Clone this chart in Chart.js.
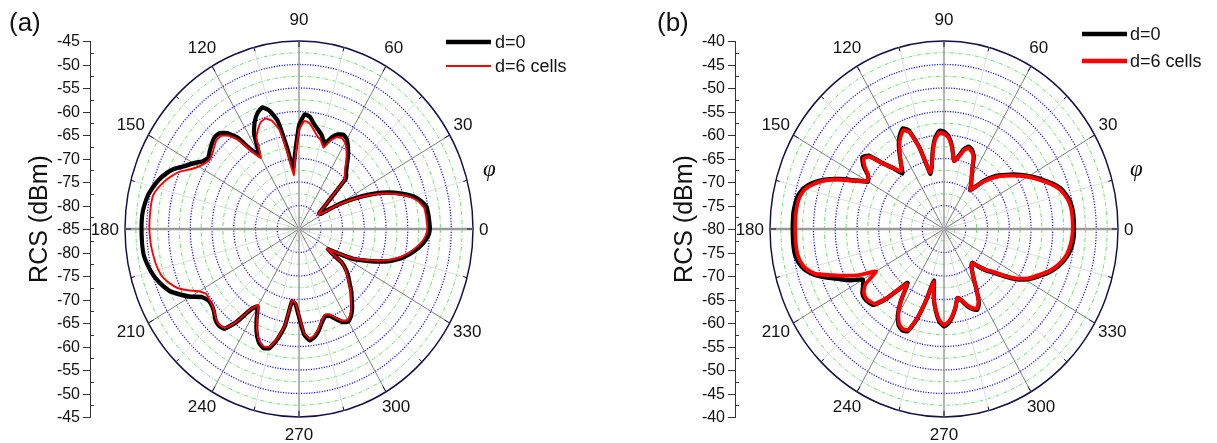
<!DOCTYPE html>
<html><head><meta charset="utf-8">
<script src="https://cdn.jsdelivr.net/npm/chart.js@4/dist/chart.umd.min.js"></script>
<style>
html,body{margin:0;padding:0;background:#fff;}
#wrap{position:relative;width:1217px;height:443px;overflow:hidden;}
canvas{position:absolute;top:0;}
</style></head><body>
<div id="wrap">
<canvas id="ca" width="608" height="443" style="left:0px"></canvas>
<canvas id="cb" width="609" height="443" style="left:608px"></canvas>
</div>
<script>
// ---- data ----
const phiDeg = [0,3,6,9,12,15,18,21,24,27,30,33,36,39,42,45,48,51,54,57,60,63,66,69,72,75,78,81,84,87,
90,93,96,99,102,105,108,111,114,117,120,123,126,129,132,135,138,141,144,147,150,153,156,159,162,165,168,171,174,177,
180,183,186,189,192,195,198,201,204,207,210,213,216,219,222,225,228,231,234,237,240,243,246,249,252,255,258,261,264,267,
270,273,276,279,282,285,288,291,294,297,300,303,306,309,312,315,318,321,324,327,330,333,336,339,342,345,348,351,354,357];

const aD0 = [-54.9,-55.0,-55.1,-55.3,-56.3,-58.0,-60.5,-63.4,-66.8,-70.8,
-74.8,-79.0,-79.3,-77.6,-74.9,-69.7,-68.8,-67.5,-65.8,-64.3,
-63.0,-62.5,-63.0,-64.2,-66.0,-64.5,-63.5,-62.5,-61.0,-60.6,
-63.0,-68.5,-72.0,-67.5,-61.5,-59.0,-57.8,-58.5,-60.0,-62.2,
-66.5,-65.0,-61.0,-58.8,-57.6,-57.5,-58.0,-58.6,-59.2,-58.6,
-57.0,-55.5,-53.6,-52.2,-51.1,-50.3,-49.6,-49.2,-48.9,-48.8,
-48.8,-48.8,-48.8,-48.9,-49.3,-49.8,-50.5,-51.4,-52.5,-54.3,
-56.2,-58.4,-59.2,-59.2,-58.7,-57.8,-57.4,-57.7,-60.5,-64.5,
-66.0,-63.5,-61.0,-59.2,-58.4,-58.8,-61.0,-64.0,-69.5,-69.0,
-66.3,-62.5,-61.2,-61.8,-63.0,-64.5,-65.5,-65.2,-64.0,-62.8,
-62.3,-63.0,-64.2,-65.7,-67.0,-68.5,-69.7,-71.0,-72.8,-77.0,
-74.5,-71.0,-68.5,-65.7,-63.0,-60.8,-59.1,-57.6,-56.3,-55.3];

const aD6 = [-55.5,-55.6,-55.7,-55.9,-56.9,-58.6,-61.0,-63.9,-67.2,-71.2,
-75.2,-79.3,-79.5,-77.8,-75.2,-70.2,-69.3,-68.0,-66.4,-65.0,
-63.8,-63.3,-63.6,-64.8,-66.8,-65.5,-64.8,-63.6,-62.3,-62.0,
-64.0,-69.5,-73.5,-69.0,-63.5,-61.2,-60.3,-60.6,-61.8,-63.5,
-67.5,-65.5,-61.8,-59.5,-58.3,-58.2,-58.8,-59.4,-59.7,-59.3,
-58.4,-57.0,-55.0,-53.6,-52.4,-51.4,-50.7,-50.6,-50.6,-50.6,
-50.6,-50.7,-50.8,-51.0,-51.2,-51.5,-52.0,-53.0,-54.3,-56.3,
-58.5,-59.6,-59.5,-59.3,-58.8,-58.0,-57.6,-57.9,-60.7,-64.7,
-66.2,-63.8,-61.3,-59.5,-58.7,-59.1,-61.3,-64.3,-69.7,-69.2,
-66.6,-62.8,-61.5,-62.1,-63.3,-64.8,-65.8,-65.5,-64.3,-63.1,
-62.6,-63.3,-64.5,-66.0,-67.3,-68.8,-70.0,-71.3,-73.0,-77.2,
-74.8,-71.4,-68.9,-66.2,-63.5,-61.3,-59.6,-58.1,-56.8,-55.9];

const bD0 = [-50.1,-50.1,-50.1,-50.2,-50.5,-51.1,-51.9,-53.2,-54.7,-56.1,
-57.5,-58.9,-60.3,-61.7,-63.0,-64.5,-66.2,-68.3,-69.8,-68.5,
-67.3,-65.6,-63.1,-62.0,-61.6,-62.5,-64.3,-65.3,-62.3,-60.2,
-59.3,-59.1,-60.5,-63.3,-66.5,-67.8,-61.8,-57.6,-56.6,-57.6,
-59.2,-61.3,-63.3,-64.8,-62.6,-60.3,-56.7,-55.8,-57.1,-59.2,
-59.8,-57.3,-53.9,-50.7,-48.3,-46.6,-45.7,-45.4,-45.2,-45.2,
-45.2,-45.2,-45.2,-45.3,-45.8,-46.8,-48.6,-51.2,-53.8,-56.0,
-58.5,-57.8,-56.8,-56.5,-56.7,-57.2,-59.8,-63.5,-65.8,-61.8,
-58.7,-57.0,-56.4,-56.7,-59.8,-64.5,-68.8,-65.0,-62.3,-60.2,
-59.3,-59.9,-61.3,-63.1,-65.0,-64.2,-62.8,-61.8,-61.2,-62.3,
-65.0,-67.5,-69.0,-70.0,-70.3,-68.6,-66.8,-65.3,-63.0,-60.5,
-58.5,-57.0,-55.7,-54.2,-53.0,-52.0,-51.2,-50.6,-50.3,-50.1];

const bD6 = [-50.4,-50.4,-50.4,-50.5,-50.8,-51.4,-52.2,-53.5,-55.0,-56.4,
-57.8,-59.2,-60.6,-62.0,-63.3,-64.8,-66.5,-68.5,-69.8,-68.5,
-67.3,-65.8,-63.4,-62.3,-61.9,-62.8,-64.5,-65.3,-62.5,-60.5,
-59.7,-59.5,-60.8,-63.5,-66.5,-67.5,-62.0,-58.0,-57.0,-58.0,
-59.5,-61.5,-63.3,-64.2,-62.5,-60.5,-57.0,-56.2,-57.5,-59.3,
-59.6,-57.5,-54.2,-51.0,-48.7,-47.0,-46.2,-45.9,-45.8,-45.8,
-45.8,-45.8,-45.8,-45.9,-46.3,-47.2,-49.0,-52.5,-55.5,-58.5,
-62.0,-58.5,-57.2,-56.8,-57.0,-57.5,-60.0,-63.5,-65.5,-62.0,
-59.0,-57.3,-56.7,-57.0,-60.0,-64.5,-68.5,-65.0,-62.5,-60.5,
-59.6,-60.2,-61.5,-63.2,-65.0,-64.3,-63.0,-62.0,-61.5,-62.5,
-65.0,-67.5,-69.0,-70.0,-70.2,-68.7,-67.0,-65.5,-63.2,-60.8,
-58.8,-57.3,-56.0,-54.5,-53.3,-52.3,-51.5,-51.0,-50.7,-50.5];

const angleTickLabels = [0,30,60,90,120,150,180,210,240,270,300,330];
const rcsTicksA = [-85,-80,-75,-70,-65,-60,-55,-50,-45];
const rcsTicksB = [-80,-75,-70,-65,-60,-55,-50,-45,-40];
const seriesNames = ['d=0','d=6 cells'];

// ---- drawing ----
const SX = 174/188;               // horizontal squeeze of the polar frame (ellipse)
const FONT = '"Liberation Sans", Arial, sans-serif';

function panel(p){
  const n = phiDeg.length;
  const order = phiDeg.map((_, i) => (n - i) % n);   // clockwise index -> ccw angle
  const labels = order.map(j => phiDeg[j]);
  const steps = Math.round((p.max - p.min) / 2.5);
  const phiOf = i => (360 - 3*i) % 360;
  const datasets = p.series.map(s => ({
    label: s.label,
    data: order.map(j => s.values[j]),
    borderColor: s.color, borderWidth: s.width, order: s.order,
    pointRadius: 0, pointHoverRadius: 0, fill: false, tension: 0.15,
    borderJoinStyle: 'round'
  }));
  const k = c => (c && c.tick) ? Math.round((c.tick.value - p.min) / 2.5) : -1;

  const textPlugin = {
    id: 'ellipseText',
    beforeDraw(chart){
      const s = chart.scales.r, ctx = chart.ctx;
      ctx.save();
      ctx.translate(s.xCenter, 0); ctx.scale(SX, 1); ctx.translate(-s.xCenter, 0);
    },
    afterDatasetsDraw(chart){ chart.ctx.restore(); },
    afterDraw(chart){
      const s = chart.scales.r, ctx = chart.ctx;
      const xc = s.xCenter, yc = s.yCenter, R = s.drawingArea, Rx = R * SX;
      ctx.save();
      // angular tick labels
      ctx.fillStyle = '#111';
      ctx.font = '17px ' + FONT;
      ctx.textAlign = 'center'; ctx.textBaseline = 'middle';
      angleTickLabels.forEach(a => {
        const t = String(a), w = ctx.measureText(t).width, h = 12;
        const c = Math.cos(a*Math.PI/180), sn = Math.sin(a*Math.PI/180);
        const gy = sn > 0 ? 16 : 11;
        const x = xc + c * (Rx + w/2 + 6);
        const y = yc - sn * (R + h/2 + gy);
        ctx.fillText(t, x, y + 1);
      });
      // small ticks on the outer circle
      ctx.strokeStyle = '#10104a'; ctx.lineWidth = 1;
      for (let a = 0; a < 360; a += 15) {
        const c = Math.cos(a*Math.PI/180), sn = Math.sin(a*Math.PI/180);
        const len = a % 30 === 0 ? 6 : 4;
        ctx.beginPath();
        ctx.moveTo(xc + c*Rx, yc - sn*R);
        ctx.lineTo(xc + c*(Rx-len), yc - sn*(R-len));
        ctx.stroke();
      }
      // left RCS axis
      const ax = p.axisX;
      ctx.strokeStyle = '#333'; ctx.lineWidth = 1;
      ctx.beginPath(); ctx.moveTo(ax + 0.5, yc - R); ctx.lineTo(ax + 0.5, yc + R); ctx.stroke();
      for (let i = 0; i <= steps; i++) {
        const v = p.min + 2.5*i;
        const d = s.getDistanceFromCenterForValue(v);
        [yc - d, yc + d].forEach(y => {
          ctx.beginPath();
          if (i % 2 === 0) { ctx.moveTo(ax - 7, Math.round(y)+0.5); ctx.lineTo(ax + 1, Math.round(y)+0.5); }
          else { ctx.moveTo(ax, Math.round(y)+0.5); ctx.lineTo(ax + 4, Math.round(y)+0.5); }
          ctx.stroke();
        });
      }
      ctx.fillStyle = '#111';
      ctx.font = '16px ' + FONT;
      ctx.textAlign = 'right'; ctx.textBaseline = 'middle';
      p.rcsTicks.forEach(v => {
        const d = s.getDistanceFromCenterForValue(v);
        ctx.fillText(String(v), ax - 10, yc - d + 1);
        if (d > 0) ctx.fillText(String(v), ax - 10, yc + d + 1);
      });
      // axis title
      ctx.save();
      ctx.translate(p.rcsX, 219);
      ctx.rotate(-Math.PI/2);
      ctx.font = '25px ' + FONT; ctx.textAlign = 'center'; ctx.textBaseline = 'alphabetic';
      ctx.fillStyle = '#111';
      ctx.fillText('RCS (dBm)', 0, 0);
      ctx.restore();
      // panel letter
      ctx.font = '26px ' + FONT; ctx.textAlign = 'left'; ctx.textBaseline = 'alphabetic';
      ctx.fillText(p.letter, p.letterX, 31);
      // phi symbol
      ctx.font = 'italic 23px "Liberation Serif", "Times New Roman", serif';
      ctx.fillText('\u03C6', p.phiX, 176);
      // legend
      ctx.lineCap = 'butt';
      p.series.forEach((sr, i) => {
        ctx.strokeStyle = sr.color; ctx.lineWidth = sr.legendWidth;
        ctx.beginPath(); ctx.moveTo(p.legX0, p.legY[i]); ctx.lineTo(p.legX1, p.legY[i]); ctx.stroke();
        ctx.fillStyle = '#111';
        ctx.font = '18px ' + FONT; ctx.textBaseline = 'middle';
        ctx.fillText(sr.label, p.legTextX, p.legY[i] + 1);
      });
      ctx.restore();
    }
  };

  return new Chart(document.getElementById(p.id), {
    type: 'radar',
    data: { labels, datasets },
    options: {
      responsive: false, animation: false, events: [],
      layout: { padding: p.pad },
      plugins: { legend: { display: false }, tooltip: { enabled: false }, title: { display: false } },
      scales: {
        r: {
          min: p.min, max: p.max, startAngle: 90,
          ticks: { display: false, stepSize: 2.5 },
          pointLabels: { display: false },
          grid: {
            circular: true,
            color: c => { const i = k(c); if (i <= 0) return 'rgba(0,0,0,0)'; if (i === steps) return '#10104a'; return i % 2 ? '#5ee25e' : '#0a0aff'; },
            lineWidth: c => { const i = k(c); if (i === steps) return 1.6; return i % 2 ? 1 : 1.3; }
          },
          border: {
            dash: c => { const i = k(c); if (i <= 0 || i === steps) return []; return i % 2 ? [4, 2, 1, 2] : [1.2, 1.6]; }
          },
          angleLines: {
            color: c => { if (!c || c.index === undefined) return 'rgba(0,0,0,0)'; const a = phiOf(c.index);
              if (a % 90 === 0) return '#9a9a9a'; if (a % 30 === 0) return '#7a7a7a'; if (a % 15 === 0) return '#dcdcdc'; return 'rgba(0,0,0,0)'; },
            lineWidth: c => { if (!c || c.index === undefined) return 0; const a = phiOf(c.index);
              if (a === 0 || a === 180) return 2.5; if (a % 90 === 0) return 1.6; if (a % 15 === 0) return 1; return 0; },
            borderDash: []
          }
        }
      }
    },
    plugins: [textPlugin]
  });
}

panel({
  id: 'ca', min: -85, max: -45, rcsTicks: rcsTicksA,
  pad: { left: 111, right: 121, top: 41, bottom: 26 },
  axisX: 90, rcsX: 47, letter: '(a)', letterX: 9, phiX: 483,
  legX0: 446, legX1: 491, legTextX: 495, legY: [42, 66],
  series: [
    { label: seriesNames[0], values: aD0, color: '#000000', width: 4.5, legendWidth: 4.5, order: 1 },
    { label: seriesNames[1], values: aD6, color: '#ff0000', width: 2, legendWidth: 2, order: 0 }
  ]
});
panel({
  id: 'cb', min: -80, max: -40, rcsTicks: rcsTicksB,
  pad: { left: 148, right: 85, top: 41, bottom: 26 },
  axisX: 127, rcsX: 84, letter: '(b)', letterX: 49, phiX: 522,
  legX0: 474, legX1: 519, legTextX: 522, legY: [34, 61],
  series: [
    { label: seriesNames[0], values: bD0, color: '#000000', width: 4.5, legendWidth: 4.5, order: 1 },
    { label: seriesNames[1], values: bD6, color: '#ff0000', width: 4, legendWidth: 4.5, order: 0 }
  ]
});
</script>
</body></html>
